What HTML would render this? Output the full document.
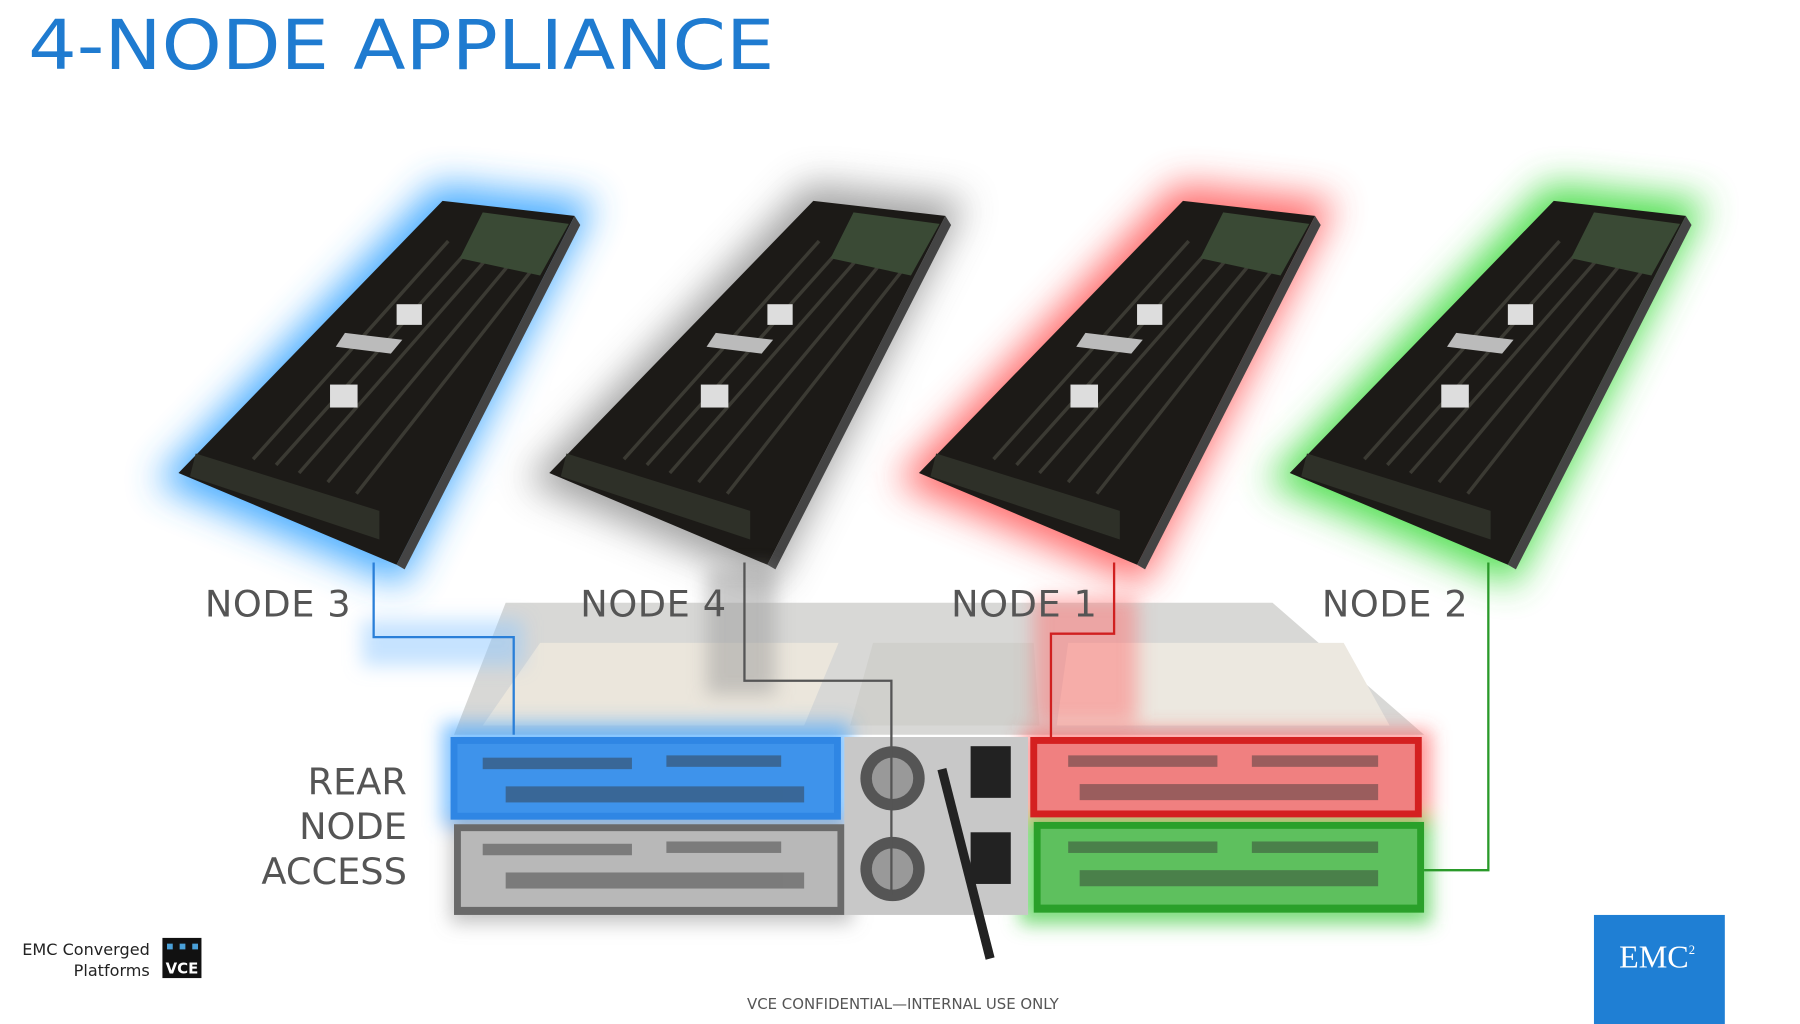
<!DOCTYPE html>
<html><head><meta charset="utf-8"><style>
html,body{margin:0;padding:0;background:#fff;}
svg{display:block;}
text{font-family:"DejaVu Sans","Liberation Sans",sans-serif;}
</style></head><body>
<svg width="1800" height="1024" viewBox="0 0 1567 892" xmlns="http://www.w3.org/2000/svg">
<defs>
<filter id="g" x="-40%" y="-40%" width="180%" height="180%"><feGaussianBlur stdDeviation="16"/></filter>
<filter id="s" x="-30%" y="-30%" width="160%" height="160%"><feGaussianBlur stdDeviation="8"/></filter>
<g id="board">
  <polygon points="385,175 500,188 345,492 155,412" fill="#1c1a17"/>
  <polygon points="345,492 500,188 505,196 352,496" fill="#444"/>
  <g stroke="#3b3a33" stroke-width="3">
    <line x1="390" y1="210" x2="220" y2="400"/>
    <line x1="410" y1="215" x2="240" y2="405"/>
    <line x1="430" y1="218" x2="260" y2="412"/>
    <line x1="450" y1="222" x2="285" y2="420"/>
    <line x1="470" y1="226" x2="310" y2="430"/>
  </g>
  <polygon points="420,185 495,195 470,240 400,225" fill="#3a4a35"/>
  <polygon points="300,290 350,296 340,308 292,302" fill="#bbb"/>
  <rect x="345" y="265" width="22" height="18" fill="#ddd"/>
  <rect x="287" y="335" width="24" height="20" fill="#ddd"/>
  <polygon points="170,395 330,445 330,470 165,415" fill="#2e3028"/>
</g>
</defs>
<rect width="1567" height="892" fill="#fff"/>
<text x="24" y="60" font-size="60" fill="#1f7bd0" textLength="650" lengthAdjust="spacingAndGlyphs">4-NODE APPLIANCE</text>

<g filter="url(#g)" opacity="0.9">
  <polygon points="380,160 518,175 350,510 135,420" fill="#3aa6ff"/>
  <polygon points="703,160 841,175 673,510 458,420" fill="#9a9a9a"/>
  <polygon points="1025,160 1163,175 995,510 780,420" fill="#ff6060"/>
  <polygon points="1348,160 1486,175 1318,510 1103,420" fill="#44dd44"/>
</g>
<use href="#board"/>
<use href="#board" transform="translate(323,0)"/>
<use href="#board" transform="translate(645,0)"/>
<use href="#board" transform="translate(968,0)"/>

<polygon points="440,525 1108,525 1240,640 395,640" fill="#d8d8d6"/>
<polygon points="470,560 730,560 700,632 420,632" fill="#ebe6dc"/>
<polygon points="760,560 900,560 905,632 740,632" fill="#d0d0cc"/>
<polygon points="930,560 1170,560 1210,632 920,632" fill="#ece8e0"/>
<g filter="url(#s)">
  <rect x="385" y="630" width="355" height="90" fill="#4aa8ff" opacity="0.7"/>
  <rect x="315" y="540" width="140" height="40" fill="#8ec8ff" opacity="0.5"/>
  <rect x="392" y="712" width="350" height="92" fill="#888" opacity="0.5"/>
  <rect x="890" y="636" width="356" height="82" fill="#ff5050" opacity="0.6"/>
  <rect x="900" y="520" width="90" height="110" fill="#ff7070" opacity="0.5"/>
  <rect x="888" y="710" width="358" height="95" fill="#44cc44" opacity="0.7"/>
  <rect x="615" y="495" width="60" height="110" fill="#999" opacity="0.5"/>
</g>
<rect x="392" y="642" width="340" height="72" fill="#2f86e4"/>
<rect x="398" y="648" width="328" height="60" fill="#4a9cf0" opacity="0.6"/>
<rect x="395" y="718" width="340" height="79" fill="#6a6a6a"/>
<rect x="401" y="724" width="328" height="66" fill="#b8b8b8"/>
<rect x="735" y="642" width="160" height="155" fill="#c8c8c8"/>
<circle cx="777" cy="678" r="28" fill="#555"/><circle cx="777" cy="678" r="18" fill="#999"/>
<circle cx="777" cy="757" r="28" fill="#555"/><circle cx="777" cy="757" r="18" fill="#999"/>
<rect x="845" y="650" width="35" height="45" fill="#222"/>
<rect x="845" y="725" width="35" height="45" fill="#222"/>
<line x1="820" y1="670" x2="862" y2="835" stroke="#222" stroke-width="8"/>
<rect x="897" y="642" width="341" height="70" fill="#d42020"/>
<rect x="903" y="648" width="329" height="58" fill="#f08080"/>
<rect x="900" y="716" width="340" height="79" fill="#2aa02a"/>
<rect x="906" y="722" width="328" height="66" fill="#5ec05e"/>
<g fill="#333" opacity="0.45">
  <rect x="420" y="660" width="130" height="10"/><rect x="580" y="658" width="100" height="10"/><rect x="440" y="685" width="260" height="14"/>
  <rect x="420" y="735" width="130" height="10"/><rect x="580" y="733" width="100" height="10"/><rect x="440" y="760" width="260" height="14"/>
  <rect x="930" y="658" width="130" height="10"/><rect x="1090" y="658" width="110" height="10"/><rect x="940" y="683" width="260" height="14"/>
  <rect x="930" y="733" width="130" height="10"/><rect x="1090" y="733" width="110" height="10"/><rect x="940" y="758" width="260" height="14"/>
</g>

<g fill="none" stroke-width="2">
  <polyline points="325,490 325,555 447,555 447,640" stroke="#2a7fd8"/>
  <polyline points="648,490 648,593 776,593 776,780" stroke="#555"/>
  <polyline points="970,490 970,552 915,552 915,642" stroke="#d02020"/>
  <polyline points="1296,490 1296,758 1240,758" stroke="#2a9a2a"/>
</g>

<g font-size="32" fill="#555">
  <text x="178" y="537" textLength="127">NODE 3</text>
  <text x="505" y="537" textLength="127">NODE 4</text>
  <text x="828" y="537" textLength="127">NODE 1</text>
  <text x="1151" y="537" textLength="127">NODE 2</text>
  <text x="354" y="692" text-anchor="end">REAR</text>
  <text x="354" y="731" text-anchor="end">NODE</text>
  <text x="354" y="770" text-anchor="end">ACCESS</text>
</g>
<text x="786" y="879" font-size="13" fill="#555" text-anchor="middle">VCE CONFIDENTIAL—INTERNAL USE ONLY</text>
<text x="130" y="832" font-size="14" fill="#222" text-anchor="end">EMC Converged</text>
<text x="130" y="850" font-size="14" fill="#222" text-anchor="end">Platforms</text>
<rect x="141" y="817" width="34" height="35" fill="#111"/>
<rect x="145" y="822" width="5" height="5" fill="#4aa0d8"/><rect x="156" y="822" width="5" height="5" fill="#4aa0d8"/><rect x="167" y="822" width="5" height="5" fill="#4aa0d8"/>
<text x="158" y="848" font-size="13" font-weight="bold" fill="#fff" text-anchor="middle">VCE</text>
<rect x="1388" y="797" width="114" height="95" fill="#1f7fd4"/>
<text x="1443" y="843" font-size="28" fill="#fff" text-anchor="middle" style="font-family:'Liberation Serif',serif">EMC<tspan font-size="11" dy="-12">2</tspan></text>
</svg>
</body></html>
